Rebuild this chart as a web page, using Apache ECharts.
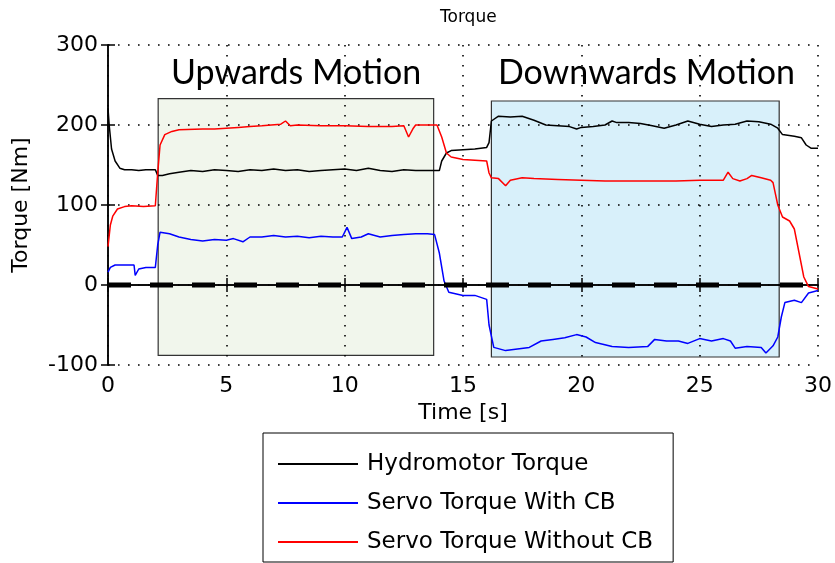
<!DOCTYPE html>
<html><head><meta charset="utf-8">
<script src="https://cdn.jsdelivr.net/npm/echarts@6/dist/echarts.min.js"></script>
<style>html,body{margin:0;padding:0;background:#fff}#c{width:835px;height:563px}</style>
</head><body><div id="c"></div>
<script>
// ---- data ----
const xTicks = [0, 5, 10, 15, 20, 25, 30];
const yTicks = [-100, 0, 100, 200, 300];
const seriesNames = ['Hydromotor Torque', 'Servo Torque With CB', 'Servo Torque Without CB'];

const hydroT = [0,0.05,0.15,0.3,0.5,0.7,1.0,1.3,1.6,2.0,2.1,2.3,2.6,3.0,3.5,4.0,4.5,5.0,5.5,6.0,6.5,7.0,7.5,8.0,8.5,9.0,9.5,10.0,10.5,11.0,11.5,12.0,12.5,13.0,13.6,14.0,14.1,14.3,14.5,15.0,15.5,16.0,16.1,16.2,16.5,17.0,17.5,18.0,18.5,19.0,19.5,19.8,20.0,20.5,21.0,21.3,21.5,22.0,22.5,23.0,23.5,24.0,24.5,25.0,25.5,26.0,26.5,27.0,27.5,28.0,28.3,28.5,29.0,29.3,29.5,29.7,30.0];
const hydroV = [221,200,170,155,146,144,144,143,144,144,137,137,139,141,143,142,144,143,142,144,143,145,143,144,142,143,144,145,143,146,143,142,144,143,143,143,155,165,168,169,170,172,178,205,211,210,211,206,200,199,198,195,197,198,200,205,203,203,202,199,196,200,205,201,198,200,201,205,204,201,196,188,186,184,175,171,171];

const withCBT = [0,0.1,0.3,1.1,1.15,1.3,1.6,2.0,2.1,2.2,2.6,3.0,3.5,4.0,4.5,5.0,5.3,5.7,6.0,6.5,7.0,7.5,8.0,8.5,9.0,9.5,9.9,10.1,10.3,10.7,11.0,11.5,12.0,12.5,13.0,13.5,13.8,14.0,14.2,14.4,15.0,15.5,16.0,16.1,16.3,16.8,17.3,17.8,18.3,18.8,19.3,19.8,20.2,20.6,21.3,22.0,22.8,23.1,23.6,24.1,24.5,25.0,25.5,26.0,26.3,26.5,27.0,27.6,27.8,28.1,28.3,28.45,28.6,29.0,29.3,29.6,30.0];
const withCBV = [16,22,25,25,12,20,22,22,50,66,64,60,57,55,57,56,58,54,60,60,62,60,61,59,61,60,60,72,58,60,64,60,62,63,64,64,63,40,5,-9,-13,-13,-18,-50,-78,-82,-80,-78,-70,-68,-66,-62,-65,-72,-77,-78,-77,-68,-70,-70,-73,-67,-70,-67,-70,-79,-77,-78,-85,-76,-65,-40,-22,-19,-22,-10,-7];

const withoutCBT = [0,0.1,0.2,0.4,0.7,1.0,1.5,2.0,2.1,2.2,2.4,2.7,3.0,4.0,4.5,5.0,5.5,6.0,6.5,7.3,7.5,7.7,8.0,9.0,10.0,11.0,12.0,12.5,12.7,12.9,13.0,13.5,13.9,14.1,14.3,14.5,15.0,15.5,16.0,16.1,16.2,16.5,16.8,17.0,17.5,18.0,19.0,20.0,21.0,22.0,23.0,24.0,25.0,26.0,26.2,26.4,26.7,27.0,27.2,27.6,28.0,28.1,28.3,28.5,28.8,29.0,29.2,29.4,29.6,30.0];
const withoutCBV = [48,75,86,95,98,99,98,99,140,175,188,192,194,195,195,196,197,198,199,201,205,199,200,199,199,198,198,199,185,196,200,200,200,185,165,160,157,156,155,140,134,133,124,131,134,133,132,131,130,130,130,130,131,131,141,133,130,133,137,134,131,128,100,85,80,70,40,10,-2,-5];

const zeroT = [0, 30];
const zeroV = [0, 0];

const upwardArea = [2.12, 13.76, -88, 233];
const downwardArea = [16.2, 28.36, -90, 230];
const annotations = [
  {text: 'Upwards Motion', x: 7.95, y: 265},
  {text: 'Downwards Motion', x: 22.75, y: 265}
];

function pairs(t, v) { return t.map((x, i) => [x, v[i]]); }

const FONT = 'DejaVu Sans';
const chart = echarts.init(document.getElementById('c'), null, {renderer: 'canvas'});

const axisCommon = {
  z: 1,
  axisLine: {show: true, lineStyle: {color: '#000', width: 1.5}},
  axisTick: {show: true, inside: true, length: 7, lineStyle: {color: '#000', width: 1.5}}
};

const option = {
  animation: false,
  backgroundColor: '#fff',
  title: {
    text: 'Torque', left: 435, top: 4,
    textStyle: {fontFamily: FONT, fontSize: 17, fontWeight: 'normal', color: '#000'}
  },
  grid: {left: 108, right: 14, top: 45, bottom: 198},
  legend: {
    data: seriesNames,
    orient: 'vertical',
    left: 263, top: 433,
    padding: [19, 20, 8, 15],
    itemGap: 15,
    itemWidth: 80, itemHeight: 2,
    icon: 'rect',
    borderColor: '#000', borderWidth: 1,
    backgroundColor: '#fff',
    textStyle: {fontFamily: FONT, fontSize: 23, color: '#000', lineHeight: 24, padding: [0, 0, 0, 4]}
  },
  xAxis: [Object.assign({
    type: 'value', min: 0, max: 30, interval: 5,
    name: 'Time [s]', nameLocation: 'middle', nameGap: 36,
    nameTextStyle: {fontFamily: FONT, fontSize: 22, color: '#000'},
    axisLabel: {fontFamily: FONT, fontSize: 22, color: '#000', margin: 10,
      formatter: v => xTicks.includes(v) ? String(v) : ''},
    splitLine: {show: true, lineStyle: {color: '#000', width: 1.6, type: [1.6, 8.4]}}
  }, axisCommon), Object.assign({
    type: 'value', min: 0, max: 30, interval: 5, position: 'top',
    axisLabel: {show: false}, splitLine: {show: false}
  }, axisCommon)],
  yAxis: [Object.assign({
    type: 'value', min: -100, max: 300, interval: 100,
    name: 'Torque [Nm]', nameLocation: 'middle', nameGap: 76, nameRotate: 90,
    nameTextStyle: {fontFamily: FONT, fontSize: 22, color: '#000'},
    axisLabel: {fontFamily: FONT, fontSize: 22, color: '#000', margin: 10,
      formatter: v => yTicks.includes(v) ? String(v) : ''},
    splitLine: {show: true, lineStyle: {color: '#000', width: 1.6, type: [1.6, 8.4]}}
  }, axisCommon), Object.assign({
    type: 'value', min: -100, max: 300, interval: 100, position: 'right',
    axisLabel: {show: false}, splitLine: {show: false}
  }, axisCommon)],
  series: [
    {
      name: 'areas', type: 'line', data: [], z: -1, silent: true,
      markArea: {
        silent: true, z: -1,
        data: [
          [{coord: [upwardArea[0], upwardArea[3]], itemStyle: {color: '#f1f6ec', borderColor: '#333', borderWidth: 1.2}},
           {coord: [upwardArea[1], upwardArea[2]]}],
          [{coord: [downwardArea[0], downwardArea[3]], itemStyle: {color: '#d8f0fa', borderColor: '#333', borderWidth: 1.2}},
           {coord: [downwardArea[1], downwardArea[2]]}]
        ]
      }
    },
    {
      name: seriesNames[0], type: 'line', data: pairs(hydroT, hydroV),
      showSymbol: false, color: '#000', lineStyle: {width: 1.5, color: '#000'}, z: 3
    },
    {
      name: seriesNames[1], type: 'line', data: pairs(withCBT, withCBV),
      showSymbol: false, color: '#0000ff', lineStyle: {width: 1.5, color: '#0000ff'}, z: 3
    },
    {
      name: seriesNames[2], type: 'line', data: pairs(withoutCBT, withoutCBV),
      showSymbol: false, color: '#ff0000', lineStyle: {width: 1.5, color: '#ff0000'}, z: 3
    },
    {
      name: 'zero', type: 'line', data: pairs(zeroT, zeroV), showSymbol: false, silent: true, z: 4,
      lineStyle: {color: '#000', width: 5, type: [23, 19], cap: 'butt'},
      markPoint: {
        symbol: 'rect', symbolSize: 0, silent: true,
        label: {show: true, position: 'inside', fontFamily: 'Lato', fontSize: 34, color: '#000',
          formatter: p => p.name},
        data: annotations.map(a => ({name: a.text, coord: [a.x, a.y]}))
      }
    }
  ]
};
chart.setOption(option);
</script>
</body></html>
